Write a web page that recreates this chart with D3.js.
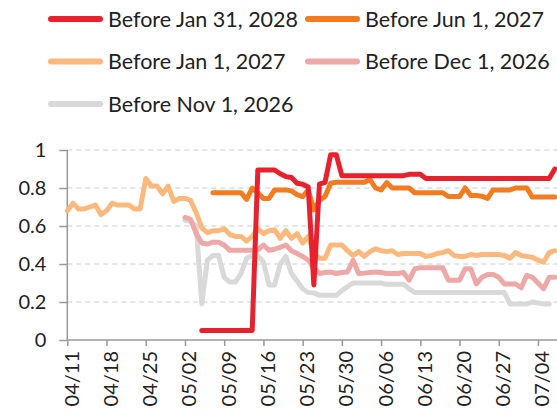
<!DOCTYPE html>
<html lang="en">
<head>
    <meta charset="utf-8" />
    <title>Before date odds</title>
    <style type="text/css">
        body { margin: 0; background: #fff; }
        .line { fill: none; stroke-width: 5px; stroke-linejoin: round; stroke-linecap: round; }
        .axis text { font-family: Lato, sans-serif; font-size: 20px; fill: #222; }
        .axis path, .axis line { stroke: #999; stroke-width: 1.5px; }
        .grid line { stroke: #ccc; stroke-width: 1px; stroke-dasharray: 5,4; }
        .legend text { font-family: Lato, sans-serif; font-size: 21.5px; fill: #222; }
    </style>
    <script type="text/javascript" src="https://cdn.jsdelivr.net/npm/d3@7"></script>
</head>
<body>
    <div id="chart"></div>
    <script type="text/javascript">
        // daily values, 04/11 .. 07/07 (88 days), null = market not open yet
        const startDay = '2025/04/11', endDay = '2025/07/08';
        const tickLabels = ['04/11', '04/18', '04/25', '05/02', '05/09', '05/16', '05/23',
            '05/30', '06/06', '06/13', '06/20', '06/27', '07/04'];
        const yTicks = [0, 0.2, 0.4, 0.6, 0.8, 1];

        const n = null;
        const jan2028 = [n,n,n,n,n,n,n,n,n,n, n,n,n,n,n,n,n,n,n,n, n,n,n,n,
            0.05, 0.05, 0.05, 0.05, 0.05, 0.05, 0.05, 0.05, 0.05, 0.05,
            0.895, 0.895, 0.895, 0.895, 0.875, 0.86, 0.855, 0.825, 0.82, 0.805,
            0.29, 0.82, 0.83, 0.975, 0.975, 0.865,
            0.865, 0.865, 0.865, 0.865, 0.865, 0.865, 0.865, 0.865, 0.865, 0.865, 0.865,
            0.872, 0.872, 0.872,
            0.85, 0.85, 0.85, 0.85, 0.85, 0.85, 0.85, 0.85, 0.85, 0.85, 0.85, 0.85,
            0.85, 0.85, 0.85, 0.85, 0.85, 0.85, 0.85, 0.85, 0.85, 0.85, 0.85, 0.90];
        const jun2027 = [n,n,n,n,n,n,n,n,n,n, n,n,n,n,n,n,n,n,n,n, n,n,n,n,n,n,
            0.775, 0.775, 0.775, 0.775, 0.775, 0.775, 0.74, 0.80, 0.775, 0.745,
            0.745, 0.79, 0.79, 0.79, 0.785, 0.765, 0.755, 0.79, 0.685, 0.735,
            0.755, 0.825, 0.83, 0.83, 0.83, 0.83, 0.83, 0.83, 0.845, 0.80,
            0.79, 0.828, 0.80, 0.80, 0.80, 0.80, 0.775, 0.775, 0.775, 0.775,
            0.775, 0.775, 0.755, 0.755, 0.755, 0.80, 0.76, 0.76, 0.757, 0.745,
            0.79, 0.79, 0.79, 0.79, 0.80, 0.80, 0.80, 0.752, 0.752, 0.752, 0.752, 0.752];
        const jan2027 = [0.68, 0.72, 0.69, 0.69, 0.70, 0.71, 0.66, 0.68, 0.72, 0.71,
            0.71, 0.71, 0.69, 0.69, 0.85, 0.81, 0.81, 0.77, 0.81, 0.73,
            0.745, 0.745, 0.735, 0.67, 0.59, 0.565, 0.575, 0.575, 0.585, 0.555,
            0.545, 0.545, 0.52, 0.545, 0.585, 0.56, 0.575, 0.58, 0.535, 0.575,
            0.535, 0.56, 0.51, 0.545, 0.46, 0.43, 0.43, 0.50, 0.50, 0.50,
            0.47, 0.445, 0.465, 0.44, 0.465, 0.48, 0.47, 0.465, 0.47, 0.45,
            0.455, 0.455, 0.455, 0.455, 0.44, 0.445, 0.455, 0.46, 0.47, 0.445,
            0.44, 0.44, 0.45, 0.445, 0.45, 0.45, 0.45, 0.45, 0.445, 0.43,
            0.46, 0.445, 0.44, 0.435, 0.42, 0.41, 0.46, 0.47];
        const dec2026 = [n,n,n,n,n,n,n,n,n,n, n,n,n,n,n,n,n,n,n,n, n,
            0.645, 0.635, 0.56, 0.51, 0.505, 0.515, 0.515, 0.50, 0.472,
            0.472, 0.472, 0.472, 0.472, 0.475, 0.50, 0.472, 0.478, 0.488, 0.50,
            0.47, 0.455, 0.44, 0.42, 0.38, 0.35, 0.355, 0.358, 0.35, 0.355,
            0.358, 0.42, 0.35, 0.352, 0.355, 0.358, 0.355, 0.35, 0.35, 0.35,
            0.355, 0.315, 0.375, 0.38, 0.38, 0.38, 0.38, 0.38, 0.315, 0.315,
            0.315, 0.375, 0.375, 0.295, 0.33, 0.345, 0.345, 0.33, 0.295, 0.295,
            0.295, 0.275, 0.34, 0.33, 0.30, 0.27, 0.33, 0.33];
        const nov2026 = [n,n,n,n,n,n,n,n,n,n, n,n,n,n,n,n,n,n,n,n, n,
            0.63, 0.625, 0.60, 0.19, 0.42, 0.445, 0.445, 0.33, 0.305,
            0.305, 0.35, 0.43, 0.445, 0.445, 0.41, 0.29, 0.29, 0.40, 0.44,
            0.35, 0.31, 0.27, 0.25, 0.248, 0.235, 0.235, 0.235, 0.235, 0.26,
            0.28, 0.30, 0.30, 0.30, 0.30, 0.30, 0.30, 0.293, 0.293, 0.293,
            0.293, 0.27, 0.25, 0.25, 0.25, 0.25, 0.25, 0.25, 0.25, 0.25,
            0.25, 0.25, 0.25, 0.25, 0.25, 0.25, 0.25, 0.25, 0.25, 0.19,
            0.19, 0.19, 0.19, 0.20, 0.195, 0.19, 0.19];

        const seriesNames = ['Before Jan 31, 2028', 'Before Jun 1, 2027', 'Before Jan 1, 2027',
            'Before Dec 1, 2026', 'Before Nov 1, 2026'];
        const seriesValues = [jan2028, jun2027, jan2027, dec2026, nov2026];
        const colors = ['#e8212e', '#f47b20', '#fdb97d', '#eea8a8', '#d9d9d9'];

        const width = 557, height = 417;
        const parseDay = d3.timeParse('%Y/%m/%d');
        const days = d3.timeDay.range(parseDay(startDay), parseDay(endDay));

        let x = d3.scaleTime()
            .domain([days[0], days[days.length - 1]])
            .range([67.3, 554.8]);
        let y = d3.scaleLinear().domain([0, 1]).range([340, 150]);

        let svg = d3.select('#chart').append('svg')
            .attr('width', width)
            .attr('height', height);

        // grid
        svg.append('g')
            .attr('class', 'grid')
            .selectAll('line')
            .data(yTicks.filter((d) => d > 0))
            .enter().append('line')
            .attr('x1', x.range()[0])
            .attr('x2', width)
            .attr('y1', (d) => y(d))
            .attr('y2', (d) => y(d));

        // axes
        svg.append('g')
            .attr('class', 'axis')
            .attr('transform', 'translate(' + x.range()[0] + ',0)')
            .call(d3.axisLeft(y).tickValues(yTicks).tickFormat(d3.format('~g')).tickSize(8).tickPadding(13))
            .call((g) => g.select('.domain').attr('d', 'M0,' + y(1) + 'V' + y(0)));

        const tickDates = tickLabels.map((t) => parseDay('2025/' + t));
        let xAxis = svg.append('g')
            .attr('class', 'axis')
            .attr('transform', 'translate(0,' + y(0) + ')')
            .call(d3.axisBottom(x).tickValues(tickDates).tickFormat((d, i) => tickLabels[i]).tickSize(6))
            .call((g) => g.select('.domain').attr('d', 'M' + x.range()[0] + ',0H' + width));
        xAxis.selectAll('text')
            .attr('transform', 'rotate(-90)')
            .attr('x', -11)
            .attr('y', 0)
            .attr('dy', '0.55em')
            .style('text-anchor', 'end');

        // lines, earliest market first so red ends up on top
        let valueline = d3.line()
            .defined((d) => d !== null)
            .x((d, i) => x(days[i]))
            .y((d) => y(d));

        for (let k = seriesValues.length - 1; k >= 0; k--) {
            svg.append('path')
                .datum(seriesValues[k])
                .attr('class', 'line')
                .style('stroke', colors[k])
                .attr('d', valueline);
        }

        // legend
        const legendPos = [[48, 19], [305, 19], [48, 61.5], [305, 61.5], [48, 104]];
        let legend = svg.selectAll('.legend')
            .data(seriesNames)
            .enter().append('g')
            .attr('class', 'legend')
            .attr('transform', (d, i) => 'translate(' + legendPos[i][0] + ',' + legendPos[i][1] + ')');
        legend.append('line')
            .attr('x1', 3).attr('x2', 52)
            .attr('y1', 0).attr('y2', 0)
            .style('stroke', (d, i) => colors[i])
            .style('stroke-width', 6)
            .style('stroke-linecap', 'round');
        legend.append('text')
            .attr('x', 60)
            .attr('y', 0)
            .attr('dy', '0.35em')
            .text((d) => d);
    </script>
</body>
</html>
